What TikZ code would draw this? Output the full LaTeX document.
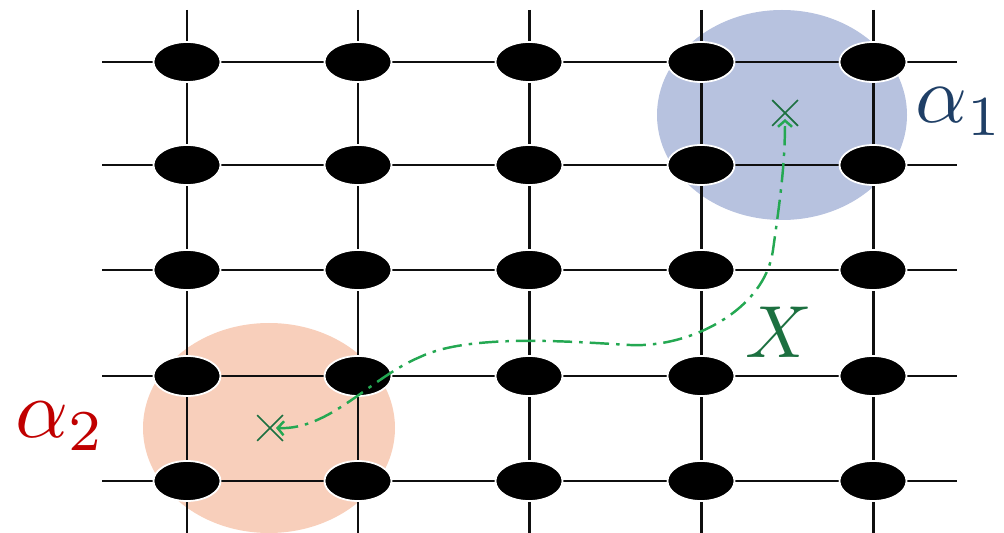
\documentclass[tikz,border=0pt]{standalone}
\usetikzlibrary{arrows.meta,shapes.geometric,shapes.misc}

\definecolor{gridink}{RGB}{15,15,15}
\definecolor{blobblue}{RGB}{183,194,223}
\definecolor{blobpeach}{RGB}{248,207,187}
\definecolor{trailgreen}{RGB}{36,168,82}
\definecolor{markgreen}{RGB}{28,112,64}
\definecolor{labelblue}{RGB}{31,63,102}
\definecolor{labelred}{RGB}{192,0,0}

\tikzset{
  gridline/.style={draw=gridink, line width=1.7pt},
  site/.style={ellipse, fill=black, draw=white, line width=1pt,
               minimum width=1.34cm, minimum height=0.80cm, inner sep=0pt},
  crossmark/.style={cross out, draw=markgreen, line width=1pt,
               minimum size=0.48cm, inner sep=0pt},
  trail/.style={draw=trailgreen, line width=1.4pt,
                dash pattern=on 11pt off 4pt on 2pt off 4pt,
                arrows={Straight Barb[length=3.5pt,width=8pt]-Straight Barb[length=3.5pt,width=8pt]}},
  biglabel/.style={inner sep=0pt, scale=#1},
}

\begin{document}
\begin{tikzpicture}[x=0.02cm, y=-0.02cm]
  \useasboundingbox (0,0) rectangle (1004,533);

  % shaded regions
  \fill[blobblue]  (782,115) ellipse [x radius=125, y radius=105];
  \fill[blobpeach] (269,428) ellipse [x radius=126, y radius=105];

  % lattice lines
  \foreach \x [count=\i] in {187,358,529,701,873} {
    \coordinate (vt\i) at (\x,10);
    \coordinate (vb\i) at (\x,533);
    \draw[gridline] (vt\i) -- (vb\i);
  }
  \foreach \y [count=\j] in {62,165,270,376,481} {
    \coordinate (hl\j) at (102,\y);
    \coordinate (hr\j) at (957,\y);
    \draw[gridline] (hl\j) -- (hr\j);
  }

  % lattice sites
  \foreach \x [count=\i] in {187,358,529,701,873} {
    \foreach \y [count=\j] in {62,165,270,376,481} {
      \node[site] (s\i\j) at (\x,\y) {};
    }
  }

  % marked points
  \node[crossmark] (m1) at (785,113) {};
  \node[crossmark] (m2) at (270,428) {};
  \coordinate (e1) at (785,119);
  \coordinate (e2) at (276,428);

  % path between the marked points
  \draw[trail] (e2) .. controls (330,430) and (370,378) .. (420,357)
                    .. controls (470,333) and (575,342) .. (630,345)
                    .. controls (690,348) and (765,310) .. (773,250)
                    .. controls (780,200) and (785,165) .. (e1);

  % labels
  \node[biglabel=4.2, text=markgreen] (lx) at (779,332) {$X$};
  \node[biglabel=4.6, text=labelblue, anchor=base west] (la1) at (914,123) {$\alpha_1$};
  \node[biglabel=4.7, text=labelred, anchor=base west] (la2) at (14,438) {$\alpha_2$};
\end{tikzpicture}
\end{document}
